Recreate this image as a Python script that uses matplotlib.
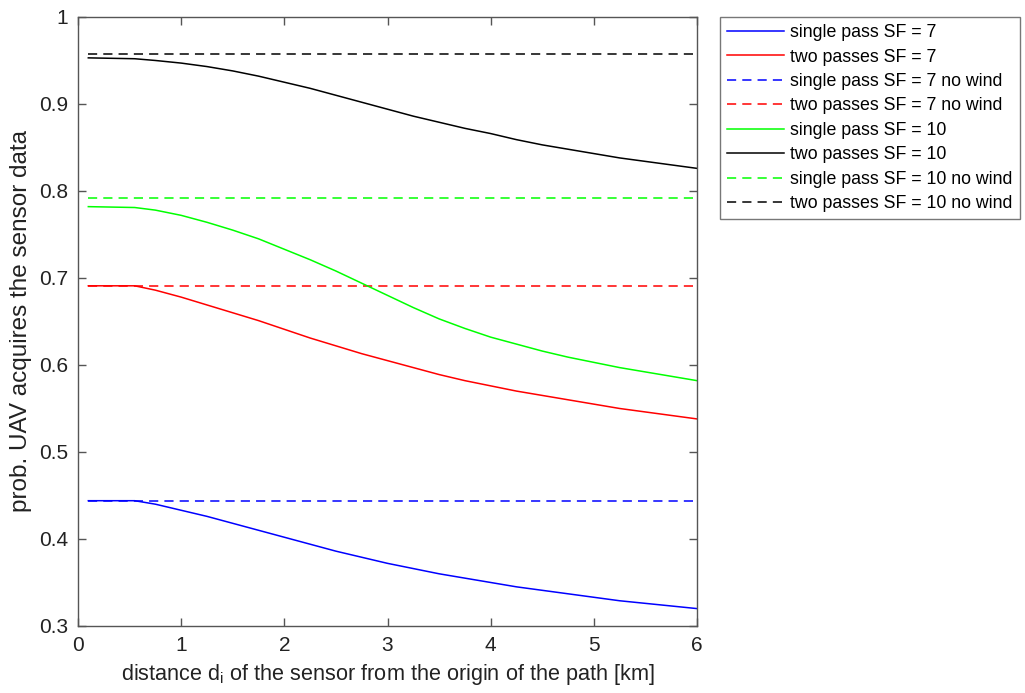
import matplotlib
matplotlib.use("Agg")
import matplotlib.pyplot as plt

plt.rcParams['font.family'] = ['Liberation Sans', 'DejaVu Sans']

# distances [km]
x = [0.1, 0.55, 0.75, 1.0, 1.25, 1.5, 1.75, 2.0, 2.25, 2.5, 2.75, 3.0, 3.25, 3.5,
     3.75, 4.0, 4.25, 4.5, 4.75, 5.0, 5.25, 5.5, 5.75, 6.0]

single_sf7 = [0.444, 0.444, 0.440, 0.433, 0.426, 0.418, 0.410, 0.402, 0.394, 0.386,
              0.379, 0.372, 0.366, 0.360, 0.355, 0.350, 0.345, 0.341, 0.337, 0.333,
              0.329, 0.326, 0.323, 0.320]
two_sf7 = [0.691, 0.691, 0.686, 0.678, 0.669, 0.660, 0.651, 0.641, 0.631, 0.622,
           0.613, 0.605, 0.597, 0.589, 0.582, 0.576, 0.570, 0.565, 0.560, 0.555,
           0.550, 0.546, 0.542, 0.538]
single_sf10 = [0.782, 0.781, 0.778, 0.772, 0.764, 0.755, 0.745, 0.733, 0.721, 0.708,
               0.694, 0.680, 0.666, 0.653, 0.642, 0.632, 0.624, 0.616, 0.609, 0.603,
               0.597, 0.592, 0.587, 0.582]
two_sf10 = [0.953, 0.952, 0.950, 0.947, 0.943, 0.938, 0.932, 0.925, 0.918, 0.910,
            0.902, 0.894, 0.886, 0.879, 0.872, 0.866, 0.859, 0.853, 0.848, 0.843,
            0.838, 0.834, 0.830, 0.826]

nowind_single_sf7 = 0.444
nowind_two_sf7 = 0.691
nowind_single_sf10 = 0.792
nowind_two_sf10 = 0.957

fig = plt.figure(figsize=(10.25, 6.93), dpi=100)
ax = fig.add_axes([0.0761, 0.0967, 0.6039, 0.8788])

xs = [x[0], x[-1]]
ax.plot(x, single_sf7, color='#0000ff', lw=1.1, label='single pass SF = 7')
ax.plot(x, two_sf7, color='#ff0000', lw=1.1, label='two passes SF = 7')
ax.plot(xs, [nowind_single_sf7] * 2, '--', color='#0000ff', lw=1.1, dashes=(6, 4),
        label='single pass SF = 7 no wind')
ax.plot(xs, [nowind_two_sf7] * 2, '--', color='#ff0000', lw=1.1, dashes=(6, 4),
        label='two passes SF = 7 no wind')
ax.plot(x, single_sf10, color='#00ff00', lw=1.1, label='single pass SF = 10')
ax.plot(x, two_sf10, color='#000000', lw=1.1, label='two passes SF = 10')
ax.plot(xs, [nowind_single_sf10] * 2, '--', color='#00ff00', lw=1.1, dashes=(6, 4),
        label='single pass SF = 10 no wind')
ax.plot(xs, [nowind_two_sf10] * 2, '--', color='#000000', lw=1.1, dashes=(6, 4),
        label='two passes SF = 10 no wind')

ax.set_xlim(0, 6)
ax.set_ylim(0.3, 1.0)
ax.set_xticks([0, 1, 2, 3, 4, 5, 6])
ax.set_yticks([0.3, 0.4, 0.5, 0.6, 0.7, 0.8, 0.9, 1.0])
ax.set_yticklabels(['0.3', '0.4', '0.5', '0.6', '0.7', '0.8', '0.9', '1'])
ax.tick_params(direction='in', length=6, width=1, colors='#555555', labelcolor='#222222',
               labelsize=15, top=True, right=True, pad=7)
for s in ax.spines.values():
    s.set_color('#555555')
    s.set_linewidth(1.0)

ax.set_xlabel('distance d$_\\mathregular{i}$ of the sensor from the origin of the path [km]',
              fontsize=15.6, color='#222222', labelpad=5)
ax.set_ylabel('prob. UAV acquires the sensor data', fontsize=17.5, color='#222222', labelpad=5)

leg = fig.legend(loc='upper left', bbox_to_anchor=(0.7024, 0.9755), borderaxespad=0,
                 fontsize=12.8, frameon=True, fancybox=False, handlelength=3.2,
                 handletextpad=0.35, labelspacing=0.42, borderpad=0.4)
leg.get_frame().set_edgecolor('#555555')
leg.get_frame().set_linewidth(1.0)

fig.savefig('out.png', dpi=100)
